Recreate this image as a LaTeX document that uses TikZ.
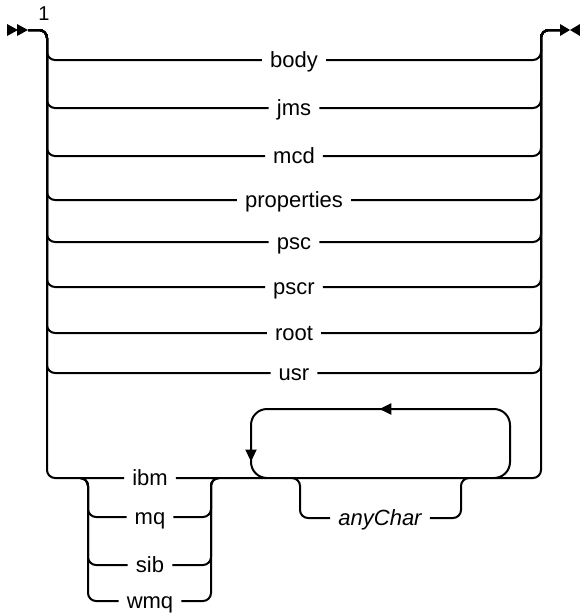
\documentclass[tikz,border=0pt]{standalone}
\usepackage{fontspec}
\setmainfont{Liberation Sans}
\usetikzlibrary{arrows.meta, decorations.markings}

\begin{document}
\begin{tikzpicture}[x=1pt, y=-1pt,
    rail/.style={line width=2pt, rounded corners=8pt},
    kw/.style={font=\fontsize{22}{22}\selectfont, inner xsep=8pt, inner ysep=0pt, text height=16pt, text depth=2pt},
    looptip/.style={decoration={markings,
      mark=at position 202pt with {\arrow{Triangle[length=12pt,width=11pt]}},
      mark=at position 376pt with {\arrow{Triangle[length=12pt,width=11pt]}}}, postaction={decorate}}]
  \useasboundingbox (0,0) rectangle (580,613);
  \coordinate (st) at (28,30);
  \coordinate (lt) at (47,30);
  \coordinate (rt) at (541,30);
  \coordinate (en) at (560,30);
  \fill (7,24) -- (18,30) -- (7,36) -- cycle (17,24) -- (st) -- (17,36) -- cycle;
  \fill (en) ++(0,-6) -- (570,30) -- (560,36) -- cycle (580,24) -- (570,30) -- (580,36) -- cycle;
  \node[font=\fontsize{20}{20}\selectfont, anchor=base, inner sep=0pt] (fn) at (44,20) {1};
  \foreach \name/\y in {body/60, jms/108, mcd/156, properties/200, psc/242, pscr/287, root/333, usr/373} {
    \node[kw] (\name) at (294,\y) {\name};
    \draw[rail] (st) -- (lt) |- (\name.west);
    \draw[rail] (\name.east) -| (rt) -- (en);
  }
  \node[kw] (ibm) at (150,478) {ibm};
  \draw[rail] (st) -- (lt) |- (ibm.west);
  \draw[rail] (ibm.east) -| (rt) -- (en);
  \coordinate (sl) at (88,478);
  \coordinate (sr) at (211,478);
  \foreach \name/\y in {mq/517, sib/565, wmq/601} {
    \node[kw] (\name) at (150,\y) {\name};
    \draw[rail] ([xshift=-8pt]sl) -- (sl) |- (\name.west);
    \draw[rail] (\name.east) -| (sr) -- ([xshift=8pt]sr);
  }
  \node[kw] (anychar) at (380,518) {\itshape anyChar};
  \coordinate (al) at (300,478);
  \coordinate (ar) at (461,478);
  \draw[rail] ([xshift=-8pt]al) -- (al) |- (anychar.west);
  \draw[rail] (anychar.east) -| (ar) -- ([xshift=8pt]ar);
  \coordinate (lpl) at (251,478);
  \coordinate (lpr) at (510,478);
  \draw[rail, rounded corners=16pt, looptip] ([xshift=-16pt]lpr) -- (lpr) -- (510,409) -- (251,409) -- (lpl) -- ([xshift=16pt]lpl);
\end{tikzpicture}
\end{document}
